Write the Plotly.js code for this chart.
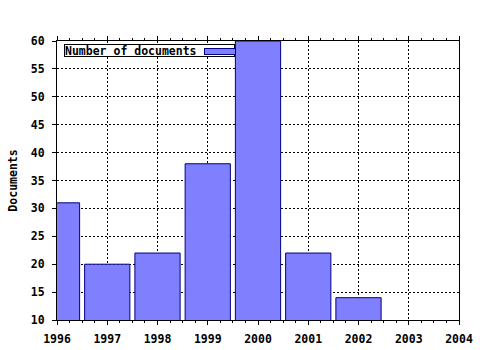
<!DOCTYPE html>
<html>
<head>
<meta charset="utf-8">
<script src="https://cdn.plot.ly/plotly-3.0.1.min.js"></script>
<style>html,body{margin:0;padding:0;background:#fff;}#chart{width:480px;height:350px;}</style>
</head>
<body>
<div id="chart"></div>
<script>
var years = [1996, 1997, 1998, 1999, 2000, 2001, 2002];
var documents = [31, 20, 22, 38, 60, 22, 14];
var xTicks = [1996, 1997, 1998, 1999, 2000, 2001, 2002, 2003, 2004];
var yTicks = [10, 15, 20, 25, 30, 35, 40, 45, 50, 55, 60];
var seriesName = "Number of documents";

var fnt = {family: "DejaVu Sans Mono, monospace", size: 11.5, color: "#000", weight: "bold"};

var trace = {
  type: "bar",
  x: years,
  y: documents,
  name: seriesName,
  width: 0.9,
  marker: {color: "#8080ff", line: {color: "#000080", width: 1}},
  showlegend: false,
  hoverinfo: "x+y"
};

// plot area in pixels: x 57..459, y 41..320
function px(x) { return (x - 57) / 402; }
function py(y) { return (320 - y) / 279; }

var layout = {
  width: 480, height: 350,
  margin: {l: 57, r: 21, t: 41, b: 30, pad: 0},
  paper_bgcolor: "#fff", plot_bgcolor: "#fff",
  font: fnt,
  showlegend: false,
  xaxis: {
    range: [1996, 2004],
    tickvals: xTicks, ticktext: xTicks.map(String),
    ticks: "outside", ticklen: 4, tickcolor: "#000", tickwidth: 1,
    showline: true, linecolor: "#000", linewidth: 1, mirror: "ticks",
    showgrid: true, gridcolor: "#000", gridwidth: 1, griddash: "2px,2px",
    zeroline: false,
    ticklabelstandoff: 4,
    minor: {dtick: 0.25, tick0: 1996, ticks: "outside", ticklen: 2, tickcolor: "#000", showgrid: false},
    tickfont: fnt
  },
  yaxis: {
    range: [10, 60],
    tickvals: yTicks, ticktext: yTicks.map(String),
    ticks: "outside", ticklen: 4, tickcolor: "#000", tickwidth: 1,
    showline: true, linecolor: "#000", linewidth: 1, mirror: true,
    showgrid: true, gridcolor: "#000", gridwidth: 1, griddash: "2px,2px",
    zeroline: false,
    ticklabelstandoff: 5,
    tickfont: fnt,
    title: {text: "Documents", font: fnt, standoff: 10}
  },
  annotations: [
    {xref: "paper", yref: "paper", x: px(64), y: py(44),
     xanchor: "left", yanchor: "top", showarrow: false, text: seriesName, font: fnt,
     align: "left", width: 169, height: 11, bgcolor: "#fff",
     bordercolor: "#000", borderwidth: 1, borderpad: 0},
    {xref: "paper", yref: "paper", x: px(204), y: py(48),
     xanchor: "left", yanchor: "top", showarrow: false, text: " ",
     font: {size: 4}, width: 30, height: 5, bgcolor: "#8080ff",
     bordercolor: "#000080", borderwidth: 1, borderpad: 0}
  ]
};

Plotly.newPlot("chart", [trace], layout, {displayModeBar: false, staticPlot: true});
</script>
</body>
</html>
